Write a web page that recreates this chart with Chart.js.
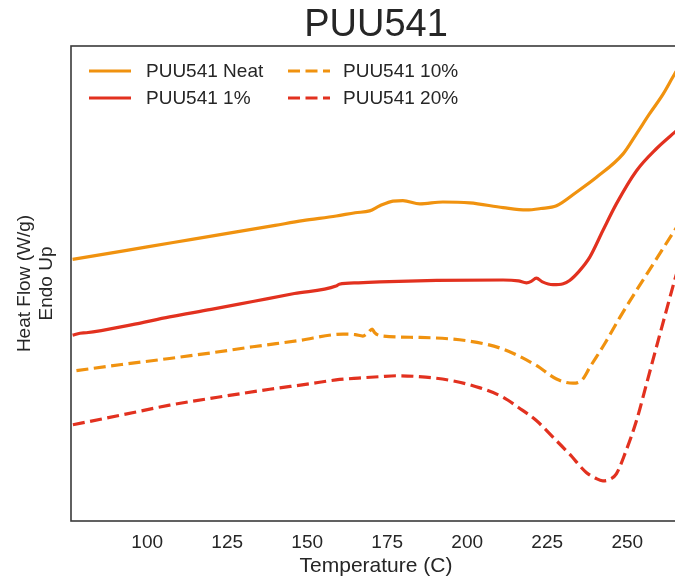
<!DOCTYPE html>
<html><head><meta charset="utf-8">
<script src="https://cdn.jsdelivr.net/npm/chart.js@4"></script>
<style>html,body{margin:0;padding:0;overflow:hidden;background:#fff}#wrap{width:684px;height:579px;position:relative}</style>
</head><body><div id="wrap"><canvas id="c" width="684" height="579"></canvas></div>
<script>
const chartTitle = 'PUU541';
const xTitle = 'Temperature (C)';
const yTitle = ['Heat Flow (W/g)', 'Endo Up'];
const xTickValues = [100, 125, 150, 175, 200, 225, 250];
const seriesNames = ['PUU541 Neat', 'PUU541 1%', 'PUU541 10%', 'PUU541 20%'];

const neatT = [76.7, 88, 100, 114, 127.9, 140, 148.6, 159.1, 165, 169.5, 172.7, 176.8, 179.9, 185.2, 192.4, 200.8, 211.2, 218.5, 223, 227.9, 234.1, 240.4, 248.7, 252.9, 257.0, 261.2, 264.8, 266.0];
const neatV = [56.0, 57.3, 58.7, 60.3, 61.9, 63.3, 64.3, 65.3, 66.0, 66.4, 67.5, 68.5, 68.6, 67.9, 68.3, 68.1, 67.1, 66.6, 66.9, 67.5, 70.4, 73.6, 78.6, 82.9, 87.2, 91.4, 95.7, 97.0];

const p1T = [76.7, 79, 81, 95, 107, 120, 133, 146, 159, 160, 166, 172.7, 190.4, 211.2, 216, 218.5, 220, 221.6, 223.5, 226.8, 230, 232, 235, 238.3, 242.4, 246.6, 252.9, 259.1, 264.8, 266.0];
const p1V = [39.8, 40.2, 40.3, 42.0, 43.7, 45.3, 47.0, 48.7, 50.3, 50.7, 51.0, 51.2, 51.5, 51.6, 51.4, 51.0, 51.3, 52.0, 51.2, 50.6, 50.8, 51.5, 53.5, 56.5, 62.2, 67.9, 75.0, 79.7, 83.2, 83.9];

const p10T = [77.9, 92, 107, 120, 133, 147, 161.2, 165, 167.4, 169, 170.3, 171, 172.7, 185.2, 200.8, 211.2, 221.6, 227.9, 233.1, 236, 238.3, 243, 247.7, 253, 258.1, 264.8, 266.0];
const p10V = [32.2, 33.5, 34.8, 36.0, 37.3, 38.6, 40.0, 39.9, 39.6, 40.3, 41.1, 40.4, 39.7, 39.3, 38.5, 36.8, 33.3, 30.4, 29.5, 30.3, 32.9, 38.0, 43.6, 49.5, 55.0, 62.2, 63.4];

const p20T = [76.8, 92, 107, 122, 138.3, 150, 159, 166, 172.7, 177.9, 187, 195.6, 204, 211.2, 216, 221.6, 227, 232, 237.2, 240, 242.4, 244.5, 246.6, 249.5, 252.9, 256, 259.1, 262, 264.8, 266.0];
const p20V = [20.6, 22.7, 24.8, 26.5, 28.2, 29.3, 30.2, 30.6, 30.9, 31.1, 30.8, 30.0, 28.5, 26.5, 24.3, 21.5, 17.8, 14.3, 10.4, 9.2, 8.6, 8.9, 10.1, 14.8, 21.5, 29.3, 37.2, 44.5, 51.5, 54.3];

const ORANGE = '#f0920f';
const RED = '#e2311f';
const TEXT = '#262626';
const FONT = "'Liberation Sans', Arial, sans-serif";

function pts(t, v) { return t.map((x, i) => ({ x: x, y: v[i] })); }

const dash = [12, 5.5];
const datasets = [
  { label: seriesNames[0], data: pts(neatT, neatV), borderColor: ORANGE, borderDash: [] },
  { label: seriesNames[1], data: pts(p1T, p1V), borderColor: RED, borderDash: [] },
  { label: seriesNames[2], data: pts(p10T, p10V), borderColor: ORANGE, borderDash: dash },
  { label: seriesNames[3], data: pts(p20T, p20V), borderColor: RED, borderDash: dash }
].map(d => Object.assign(d, { borderWidth: 3.2, pointRadius: 0, fill: false, cubicInterpolationMode: 'monotone' }));

const legendSlots = [
  { line: [89, 131], text: 146, y: 71 },
  { line: [89, 131], text: 146, y: 98 },
  { line: [288, 330], text: 343, y: 71 },
  { line: [288, 330], text: 343, y: 98 }
];

const framePlugin = {
  id: 'frame',
  afterDatasetsDraw(chart) {
    const a = chart.chartArea, ctx = chart.ctx;
    ctx.save();
    ctx.strokeStyle = '#3a3a3a';
    ctx.lineWidth = 1.6;
    ctx.strokeRect(a.left, a.top, a.right - a.left, a.bottom - a.top);
    ctx.restore();
  },
  afterDraw(chart) {
    const ctx = chart.ctx;
    ctx.save();
    chart.data.datasets.forEach((d, i) => {
      const s = legendSlots[i];
      ctx.strokeStyle = d.borderColor;
      ctx.lineWidth = d.borderWidth;
      ctx.setLineDash(d.borderDash || []);
      ctx.beginPath();
      ctx.moveTo(s.line[0], s.y);
      ctx.lineTo(s.line[1], s.y);
      ctx.stroke();
      ctx.setLineDash([]);
      ctx.fillStyle = TEXT;
      ctx.font = '19px ' + FONT;
      ctx.textBaseline = 'middle';
      ctx.textAlign = 'left';
      ctx.fillText(d.label, s.text, s.y + 1);
    });
    ctx.restore();
  }
};

new Chart(document.getElementById('c'), {
  type: 'line',
  data: { datasets: datasets },
  options: {
    responsive: false,
    animation: false,
    devicePixelRatio: 1,
    layout: { padding: { left: 0, right: 3, top: 0, bottom: 0 } },
    plugins: {
      legend: { display: false },
      tooltip: { enabled: false },
      title: {
        display: true, text: chartTitle, color: TEXT, fullSize: false,
        font: { family: FONT, size: 38, weight: 'normal', lineHeight: 1.0 },
        padding: { top: 7, bottom: 1 }
      }
    },
    scales: {
      x: {
        type: 'linear', min: 76.2, max: 266.8,
        grid: { display: false, drawTicks: false },
        border: { display: false },
        afterBuildTicks: s => { s.ticks = xTickValues.map(v => ({ value: v })); },
        afterFit: s => { s.height = 58; },
        ticks: { color: TEXT, font: { family: FONT, size: 19 }, padding: 10, maxRotation: 0, autoSkip: false },
        title: { display: true, text: xTitle, color: TEXT, font: { family: FONT, size: 21 }, padding: { top: 0, bottom: 0 } }
      },
      y: {
        min: 0, max: 101.7,
        grid: { display: false, drawTicks: false },
        border: { display: false },
        ticks: { display: false },
        afterFit: s => { s.width = 71; },
        title: { display: true, text: yTitle, color: TEXT, font: { family: FONT, size: 19, lineHeight: 1.15 }, padding: { top: 14, bottom: 0 } }
      }
    }
  },
  plugins: [framePlugin]
});
</script>
</body></html>
